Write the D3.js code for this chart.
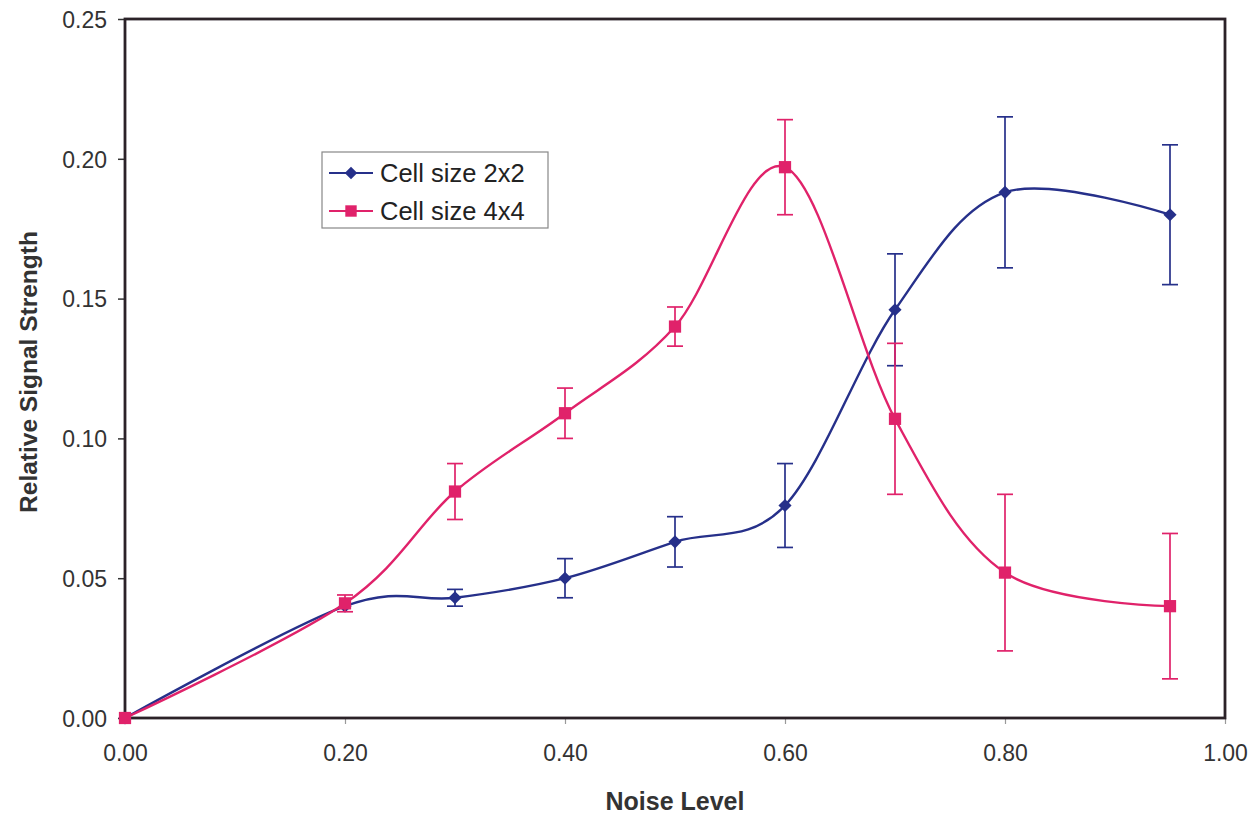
<!DOCTYPE html>
<html>
<head>
<meta charset="utf-8">
<script src="https://cdn.jsdelivr.net/npm/d3@7"></script>
<style>
  body { margin: 0; background: #ffffff; }
  svg { display: block; }
</style>
</head>
<body>
<svg id="chart" width="1258" height="816"></svg>
<script>
// ---- data ----
const noiseLevels = [0.00, 0.20, 0.30, 0.40, 0.50, 0.60, 0.70, 0.80, 0.95];
const cell2x2 = [0.000, 0.040, 0.043, 0.050, 0.063, 0.076, 0.146, 0.188, 0.180];
const cell2x2Err = [0.000, 0.000, 0.003, 0.007, 0.009, 0.015, 0.020, 0.027, 0.025];
const cell4x4 = [0.000, 0.041, 0.081, 0.109, 0.140, 0.197, 0.107, 0.052, 0.040];
const cell4x4Err = [0.000, 0.003, 0.010, 0.009, 0.007, 0.017, 0.027, 0.028, 0.026];
const xTicks = [0.00, 0.20, 0.40, 0.60, 0.80, 1.00];
const yTicks = [0.00, 0.05, 0.10, 0.15, 0.20, 0.25];
const seriesNames = ["Cell size 2x2", "Cell size 4x4"];
const seriesColors = ["#26308a", "#e0226a"];

// ---- layout ----
const svg = d3.select("#chart");
const plotL = 125, plotR = 1225, plotT = 19, plotB = 718;
const x = d3.scaleLinear().domain([0, 1]).range([plotL, plotR]);
const y = d3.scaleLinear().domain([0, 0.25]).range([plotB, plotT]);
const font = "Arial, 'Liberation Sans', Helvetica, sans-serif";

// axes
const xAxis = d3.axisBottom(x).tickValues(xTicks).tickFormat(d3.format(".2f")).tickSizeOuter(0).tickSize(6).tickPadding(21);
const yAxis = d3.axisLeft(y).tickValues(yTicks).tickFormat(d3.format(".2f")).tickSizeOuter(0).tickSize(7).tickPadding(11);

const gx = svg.append("g").attr("transform", `translate(0,${plotB})`).call(xAxis);
gx.select(".domain").remove();
gx.selectAll(".tick line").attr("stroke", "#999").attr("stroke-width", 1.2);
gx.selectAll(".tick text").attr("font-family", font).attr("font-size", 23).attr("fill", "#333");

const gy = svg.append("g").attr("transform", `translate(${plotL},0)`).call(yAxis);
gy.select(".domain").remove();
gy.selectAll(".tick line").attr("stroke", "#333").attr("stroke-width", 1.5);
gy.selectAll(".tick text").attr("font-family", font).attr("font-size", 23).attr("fill", "#333").attr("dy", "0.36em");

// frame
svg.append("rect")
  .attr("x", plotL).attr("y", plotT)
  .attr("width", plotR - plotL).attr("height", plotB - plotT)
  .attr("fill", "none").attr("stroke", "#2b2228").attr("stroke-width", 2.8);

// axis titles
svg.append("text")
  .attr("x", 675).attr("y", 810)
  .attr("text-anchor", "middle")
  .attr("font-family", font).attr("font-weight", "bold").attr("font-size", 25).attr("fill", "#333")
  .text("Noise Level");
svg.append("text")
  .attr("transform", "translate(37,372) rotate(-90)")
  .attr("text-anchor", "middle")
  .attr("font-family", font).attr("font-weight", "bold").attr("font-size", 24.5).attr("fill", "#333")
  .text("Relative Signal Strength");

// series
const series = [
  { values: cell2x2, err: cell2x2Err, color: seriesColors[0], marker: "diamond" },
  { values: cell4x4, err: cell4x4Err, color: seriesColors[1], marker: "square" }
];
const line = d3.line().x(d => x(d[0])).y(d => y(d[1])).curve(d3.curveCatmullRom.alpha(0));
const capW = 8;
const symType = m => m === "diamond" ? d3.symbolDiamond2 : d3.symbolSquare;

series.forEach(s => {
  const g = svg.append("g");
  const pts = noiseLevels.map((n, i) => [n, s.values[i], s.err[i]]);
  // error bars
  pts.filter(p => p[2] > 0).forEach(p => {
    const x0 = x(p[0]), y1 = y(p[1] + p[2]), y2 = y(p[1] - p[2]);
    g.append("line").attr("x1", x0).attr("x2", x0).attr("y1", y1).attr("y2", y2)
      .attr("stroke", s.color).attr("stroke-width", 1.7);
    [y1, y2].forEach(yy => g.append("line")
      .attr("x1", x0 - capW).attr("x2", x0 + capW).attr("y1", yy).attr("y2", yy)
      .attr("stroke", s.color).attr("stroke-width", 1.7));
  });
  g.append("path").datum(pts).attr("d", line)
    .attr("fill", "none").attr("stroke", s.color).attr("stroke-width", 2.4);
  const size = s.marker === "diamond" ? 110 : 150;
  g.selectAll("path.m").data(pts).enter().append("path")
    .attr("class", "m")
    .attr("transform", d => `translate(${x(d[0])},${y(d[1])})`)
    .attr("d", d3.symbol().type(symType(s.marker)).size(size))
    .attr("fill", s.color);
});

// legend
const lg = svg.append("g");
lg.append("rect").attr("x", 322).attr("y", 152).attr("width", 226).attr("height", 76)
  .attr("fill", "#fff").attr("stroke", "#888").attr("stroke-width", 1.2);
series.forEach((s, i) => {
  const cy = 173 + i * 38;
  lg.append("line").attr("x1", 329).attr("x2", 373).attr("y1", cy).attr("y2", cy)
    .attr("stroke", s.color).attr("stroke-width", 2.2);
  lg.append("path").attr("transform", `translate(351,${cy})`)
    .attr("d", d3.symbol().type(symType(s.marker)).size(s.marker === "diamond" ? 100 : 130))
    .attr("fill", s.color);
  lg.append("text").attr("x", 380).attr("y", cy + 9)
    .attr("font-family", font).attr("font-size", 25.5).attr("fill", "#222")
    .text(seriesNames[i]);
});
</script>
</body>
</html>
